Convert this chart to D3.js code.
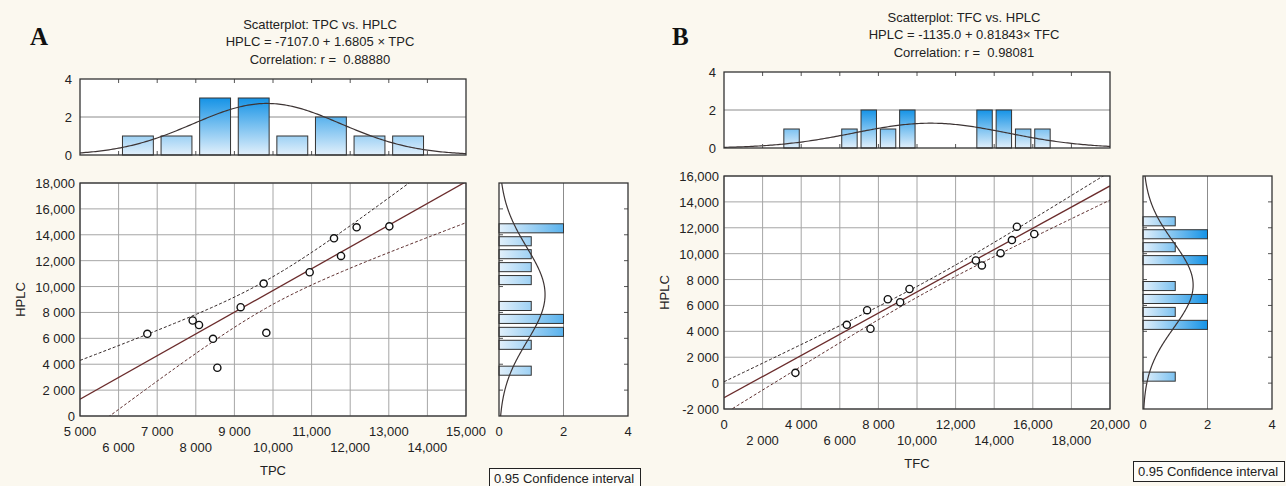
<!DOCTYPE html>
<html>
<head>
<meta charset="utf-8">
<script src="https://cdn.jsdelivr.net/npm/d3@7"></script>
<style>
  html, body { margin: 0; padding: 0; background: #fbf8ef; }
  svg { display: block; font-family: "Liberation Sans", Arial, sans-serif; }
  text { white-space: pre; }
</style>
</head>
<body>
<svg id="chart" width="1286" height="486"></svg>
<script>
/* Data */
// Panel A: TPC vs HPLC
const tpc   = [6744, 7919, 8083, 8446, 8558, 9162, 9758, 9827, 10950, 11580, 11762, 12167, 13014];
const hplcA = [6350, 7378, 7030, 5964, 3728, 8406, 10231, 6427, 11105, 13728, 12365, 14576, 14653];
// Panel B: TFC vs HPLC
const tfc   = [3699, 6361, 7416, 7589, 8487, 9127, 9611, 13051, 13362, 14330, 14918, 15177, 16076];
const hplcB = [794, 4506, 5632, 4199, 6477, 6247, 7271, 9473, 9089, 10036, 11050, 12084, 11521];

// regression coefficients as printed in the titles [intercept, slope]
const fitA = [-7107.0, 1.6805];
const fitB = [-1135.0, 0.81843];

const titleA = ["Scatterplot: TPC vs. HPLC", "HPLC = -7107.0 + 1.6805 \u00d7 TPC", "Correlation: r =  0.88880"];
const titleB = ["Scatterplot: TFC vs. HPLC", "HPLC = -1135.0 + 0.81843\u00d7 TFC", "Correlation: r =  0.98081"];

// tick labels
const xTicksA = [5000, 6000, 7000, 8000, 9000, 10000, 11000, 12000, 13000, 14000, 15000];
const yTicksA = [0, 2000, 4000, 6000, 8000, 10000, 12000, 14000, 16000, 18000];
const xTicksB = [0, 2000, 4000, 6000, 8000, 10000, 12000, 14000, 16000, 18000, 20000];
const yTicksB = [-2000, 0, 2000, 4000, 6000, 8000, 10000, 12000, 14000, 16000];
const countTicks = [0, 2, 4];

const binWidth = 1000;
const tCrit = 2.201;   // t(0.975, df = 11)
const ciLabel = "0.95 Confidence interval";

const svg = d3.select("#chart");
const defs = svg.append("defs");

// 5 000 style below 10k, 10,000 style above (as in the original software)
const fmtNum = v => {
    const s = d3.format(",")(v).replace("\u2212", "-");
    return Math.abs(v) < 10000 ? s.replace(",", " ") : s;
};

function normalPdf(v, m, sd) {
    return Math.exp(-0.5 * ((v - m) / sd) ** 2) / (sd * Math.sqrt(2 * Math.PI));
}

function drawPanel(cfg) {
    const id = cfg.id;
    const g = svg.append("g").attr("transform", `translate(${cfg.dx},${cfg.dy})`);
    const n = cfg.xs.length;

    // scales
    const x = d3.scaleLinear().domain(d3.extent(cfg.xTicks)).range([80, 466]);
    const y = d3.scaleLinear().domain(d3.extent(cfg.yTicks)).range([416, 183]);
    const hy = d3.scaleLinear().domain([0, 4]).range([155, 79]);   // top histogram counts
    const hx = d3.scaleLinear().domain([0, 4]).range([499, 628]);  // right histogram counts

    // Panel letter
    svg.append("text")
        .attr("x", cfg.letterX).attr("y", 45)
        .attr("font-family", "'Liberation Serif', 'Times New Roman', serif")
        .attr("font-weight", "bold")
        .attr("font-size", "25px")
        .attr("fill", "#111")
        .text(cfg.letter);

    // Title
    g.selectAll(".title")
        .data(cfg.title)
        .join("text")
        .attr("x", 320)
        .attr("y", (d, i) => 28.5 + i * 17.5)
        .attr("text-anchor", "middle")
        .attr("font-size", "13px")
        .attr("fill", "#222")
        .text(d => d);

    // clip paths
    defs.append("clipPath").attr("id", `clipTop${id}`)
        .append("rect").attr("x", 80).attr("y", 79).attr("width", 386).attr("height", 76);
    defs.append("clipPath").attr("id", `clipSc${id}`)
        .append("rect").attr("x", 80).attr("y", 183).attr("width", 386).attr("height", 233);
    defs.append("clipPath").attr("id", `clipRt${id}`)
        .append("rect").attr("x", 499).attr("y", 183).attr("width", 129).attr("height", 233);

    /* Top histogram */
    const binsX = d3.bin()
        .domain(x.domain())
        .thresholds(d3.range(x.domain()[0] + binWidth, x.domain()[1], binWidth))(cfg.xs);
    const binsY = d3.bin()
        .domain(y.domain())
        .thresholds(d3.range(y.domain()[0] + binWidth, y.domain()[1], binWidth))(cfg.ys);
    const maxCount = d3.max([...binsX, ...binsY], b => b.length);

    const gradTop = defs.append("linearGradient").attr("id", `gradTop${id}`)
        .attr("gradientUnits", "userSpaceOnUse")
        .attr("x1", 0).attr("x2", 0).attr("y1", hy(0)).attr("y2", hy(maxCount));
    gradTop.append("stop").attr("offset", "0%").attr("stop-color", "#e2f0fb");
    gradTop.append("stop").attr("offset", "100%").attr("stop-color", "#1593e6");

    const gradRt = defs.append("linearGradient").attr("id", `gradRt${id}`)
        .attr("gradientUnits", "userSpaceOnUse")
        .attr("y1", 0).attr("y2", 0).attr("x1", hx(0)).attr("x2", hx(maxCount));
    gradRt.append("stop").attr("offset", "0%").attr("stop-color", "#e2f0fb");
    gradRt.append("stop").attr("offset", "100%").attr("stop-color", "#1593e6");

    g.append("rect")
        .attr("x", 80).attr("y", 79).attr("width", 386).attr("height", 76)
        .attr("fill", "#fff");

    g.append("line")
        .attr("x1", 80).attr("x2", 466)
        .attr("y1", hy(2)).attr("y2", hy(2))
        .attr("stroke", "#8c8c8c");

    g.selectAll(".barTop")
        .data(binsX.filter(b => b.length > 0))
        .join("rect")
        .attr("class", "barTop")
        .attr("x", b => x(b.x0 + binWidth * 0.1))
        .attr("width", b => x(b.x0 + binWidth * 0.9) - x(b.x0 + binWidth * 0.1))
        .attr("y", b => hy(b.length))
        .attr("height", b => hy(0) - hy(b.length))
        .attr("fill", `url(#gradTop${id})`)
        .attr("stroke", "#333")
        .attr("stroke-width", 1);

    const mx = d3.mean(cfg.xs), sdx = d3.deviation(cfg.xs);
    const xSamples = d3.range(0, 201).map(i => x.domain()[0] + (x.domain()[1] - x.domain()[0]) * i / 200);
    g.append("path")
        .datum(xSamples)
        .attr("clip-path", `url(#clipTop${id})`)
        .attr("fill", "none")
        .attr("stroke", "#3d3434")
        .attr("stroke-width", 1.2)
        .attr("d", d3.line().x(v => x(v)).y(v => hy(n * binWidth * normalPdf(v, mx, sdx))));

    // small inner ticks
    const innerX = cfg.xTicks.slice(1, -1);
    g.selectAll(".tickTopT").data(innerX).join("line")
        .attr("x1", v => x(v)).attr("x2", v => x(v))
        .attr("y1", 79).attr("y2", 83).attr("stroke", "#555");
    g.selectAll(".tickTopB").data(innerX).join("line")
        .attr("x1", v => x(v)).attr("x2", v => x(v))
        .attr("y1", 155).attr("y2", 151).attr("stroke", "#555");

    g.append("rect")
        .attr("x", 80).attr("y", 79).attr("width", 386).attr("height", 76)
        .attr("fill", "none").attr("stroke", "#333").attr("stroke-width", 1.3);

    g.selectAll(".cntLabel")
        .data(countTicks)
        .join("text")
        .attr("x", 72)
        .attr("y", v => hy(v) + 5)
        .attr("text-anchor", "end")
        .attr("font-size", "13px")
        .attr("fill", "#222")
        .text(v => v);

    /* Scatterplot */
    g.append("rect")
        .attr("x", 80).attr("y", 183).attr("width", 386).attr("height", 233)
        .attr("fill", "#fff");

    g.selectAll(".gridV").data(cfg.xTicks).join("line")
        .attr("x1", v => x(v)).attr("x2", v => x(v))
        .attr("y1", 183).attr("y2", 416)
        .attr("stroke", "#a6a6a6");
    g.selectAll(".gridH").data(cfg.yTicks).join("line")
        .attr("y1", v => y(v)).attr("y2", v => y(v))
        .attr("x1", 80).attr("x2", 466)
        .attr("stroke", "#a6a6a6");

    // regression + confidence band
    const [b0, b1] = cfg.fit;
    const pred = v => b0 + b1 * v;
    const sxx = d3.sum(cfg.xs, v => (v - mx) ** 2);
    const sres = Math.sqrt(d3.sum(cfg.xs, (v, i) => (cfg.ys[i] - pred(v)) ** 2) / (n - 2));
    const half = v => tCrit * sres * Math.sqrt(1 / n + (v - mx) ** 2 / sxx);

    const sc = g.append("g").attr("clip-path", `url(#clipSc${id})`);
    sc.append("path").datum(xSamples)
        .attr("fill", "none").attr("stroke", "#2e2222").attr("stroke-width", 1)
        .attr("stroke-dasharray", "3,2")
        .attr("d", d3.line().x(v => x(v)).y(v => y(pred(v) + half(v))));
    sc.append("path").datum(xSamples)
        .attr("fill", "none").attr("stroke", "#5a2a2a").attr("stroke-width", 1)
        .attr("stroke-dasharray", "3,2")
        .attr("d", d3.line().x(v => x(v)).y(v => y(pred(v) - half(v))));
    sc.append("path").datum(x.domain())
        .attr("fill", "none").attr("stroke", "#6b2c2c").attr("stroke-width", 1.3)
        .attr("d", d3.line().x(v => x(v)).y(v => y(pred(v))));

    g.selectAll(".pt")
        .data(cfg.xs.map((v, i) => [v, cfg.ys[i]]))
        .join("circle")
        .attr("cx", d => x(d[0]))
        .attr("cy", d => y(d[1]))
        .attr("r", 3.6)
        .attr("fill", "#fff")
        .attr("stroke", "#111")
        .attr("stroke-width", 1.4);

    g.append("rect")
        .attr("x", 80).attr("y", 183).attr("width", 386).attr("height", 233)
        .attr("fill", "none").attr("stroke", "#333").attr("stroke-width", 1.3);

    g.selectAll(".yLabel")
        .data(cfg.yTicks)
        .join("text")
        .attr("x", 75)
        .attr("y", v => y(v) + 5)
        .attr("text-anchor", "end")
        .attr("font-size", "13px")
        .attr("fill", "#222")
        .text(fmtNum);

    g.selectAll(".xLabel")
        .data(cfg.xTicks)
        .join("text")
        .attr("x", v => x(v))
        .attr("y", (v, i) => i % 2 === 0 ? 436 : 452)
        .attr("text-anchor", "middle")
        .attr("font-size", "13px")
        .attr("fill", "#222")
        .text(fmtNum);

    g.append("text")
        .attr("x", 273).attr("y", 475)
        .attr("text-anchor", "middle")
        .attr("font-size", "13px").attr("fill", "#222")
        .text(cfg.xName);

    g.append("text")
        .attr("transform", `translate(25,${(183 + 416) / 2}) rotate(-90)`)
        .attr("text-anchor", "middle")
        .attr("font-size", "13px").attr("fill", "#222")
        .text(cfg.yName);

    /* Right histogram */
    g.append("rect")
        .attr("x", 499).attr("y", 183).attr("width", 129).attr("height", 233)
        .attr("fill", "#fff");

    g.append("line")
        .attr("x1", hx(2)).attr("x2", hx(2))
        .attr("y1", 183).attr("y2", 416)
        .attr("stroke", "#8c8c8c");

    g.selectAll(".barRt")
        .data(binsY.filter(b => b.length > 0))
        .join("rect")
        .attr("class", "barRt")
        .attr("x", hx(0))
        .attr("width", b => hx(b.length) - hx(0))
        .attr("y", b => y(b.x1 - binWidth * 0.15))
        .attr("height", b => y(b.x0 + binWidth * 0.15) - y(b.x1 - binWidth * 0.15))
        .attr("fill", `url(#gradRt${id})`)
        .attr("stroke", "#333")
        .attr("stroke-width", 1);

    const my = d3.mean(cfg.ys), sdy = d3.deviation(cfg.ys);
    const ySamples = d3.range(0, 201).map(i => y.domain()[0] + (y.domain()[1] - y.domain()[0]) * i / 200);
    g.append("path")
        .datum(ySamples)
        .attr("clip-path", `url(#clipRt${id})`)
        .attr("fill", "none")
        .attr("stroke", "#3d3434")
        .attr("stroke-width", 1.2)
        .attr("d", d3.line().y(v => y(v)).x(v => hx(n * binWidth * normalPdf(v, my, sdy))));

    const innerY = cfg.yTicks.slice(1, -1);
    g.selectAll(".tickRtL").data(innerY).join("line")
        .attr("y1", v => y(v)).attr("y2", v => y(v))
        .attr("x1", 499).attr("x2", 503).attr("stroke", "#555");
    g.selectAll(".tickRtR").data(innerY).join("line")
        .attr("y1", v => y(v)).attr("y2", v => y(v))
        .attr("x1", 628).attr("x2", 624).attr("stroke", "#555");

    g.append("rect")
        .attr("x", 499).attr("y", 183).attr("width", 129).attr("height", 233)
        .attr("fill", "none").attr("stroke", "#333").attr("stroke-width", 1.3);

    g.selectAll(".cntLabelR")
        .data(countTicks)
        .join("text")
        .attr("x", v => hx(v))
        .attr("y", 436)
        .attr("text-anchor", "middle")
        .attr("font-size", "13px")
        .attr("fill", "#222")
        .text(v => v);

    // Legend box
    g.append("rect")
        .attr("x", 489.5).attr("y", 468.5).attr("width", 151).attr("height", 20)
        .attr("fill", "#fdfcf8").attr("stroke", "#222").attr("stroke-width", 1);
    g.append("text")
        .attr("x", 494).attr("y", 483)
        .attr("font-size", "13px").attr("fill", "#222")
        .text(ciLabel);
}

drawPanel({
    id: "A", letter: "A", letterX: 30, dx: 0, dy: 0,
    xs: tpc, ys: hplcA, fit: fitA, title: titleA,
    xTicks: xTicksA, yTicks: yTicksA, xName: "TPC", yName: "HPLC"
});

drawPanel({
    id: "B", letter: "B", letterX: 672, dx: 644, dy: -7,
    xs: tfc, ys: hplcB, fit: fitB, title: titleB,
    xTicks: xTicksB, yTicks: yTicksB, xName: "TFC", yName: "HPLC"
});
</script>
</body>
</html>
